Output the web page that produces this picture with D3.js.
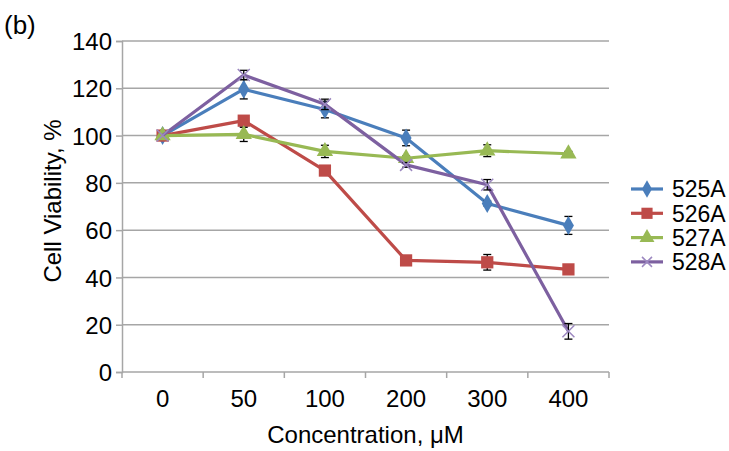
<!DOCTYPE html>
<html>
<head>
<meta charset="utf-8">
<script src="https://cdn.jsdelivr.net/npm/d3@7"></script>
<style>
  body { margin: 0; background: #fff; }
  text { font-family: "Liberation Sans", Arial, sans-serif; fill: #000; }
</style>
</head>
<body>
<div id="chart"></div>
<script>
// concentrations (uM) shown as categories
var concentrations = ["0", "50", "100", "200", "300", "400"];
var seriesNames = ["525A", "526A", "527A", "528A"];

var v525 = [100, 119.6, 111, 99, 71.3, 62];
var v526 = [100, 106.3, 85.2, 47.2, 46.4, 43.4];
var v527 = [100, 100.5, 93.3, 90.4, 93.6, 92.3];
var v528 = [100, 125.6, 113.2, 87.6, 79.2, 17.2];

var e525 = [0, 4.1, 3.5, 3.3, 1, 3.8];
var e526 = [0, 1.5, 1.8, 1, 3.3, 1];
var e527 = [0, 3, 2.6, 1, 2.5, 1];
var e528 = [0, 2, 2.2, 1, 2.2, 3.3];

var yTicks = [0, 20, 40, 60, 80, 100, 120, 140];

var cfg = {
  w: 729,
  h: 451,
  margin: {top: 41, right: 120, bottom: 79, left: 122},
  colors: ["#4a7ebb", "#be4b48", "#98b954", "#7d60a0"],
  symbols: ["diamond", "square", "triangle", "x"]
};

var graphW = cfg.w - cfg.margin.left - cfg.margin.right;
var graphH = cfg.h - cfg.margin.top - cfg.margin.bottom;

var series = [
  {name: seriesNames[0], values: v525, err: e525},
  {name: seriesNames[1], values: v526, err: e526},
  {name: seriesNames[2], values: v527, err: e527},
  {name: seriesNames[3], values: v528, err: e528}
];

var svg = d3.select("#chart")
  .append("svg")
  .attr("width", cfg.w)
  .attr("height", cfg.h);

var g = svg.append("g")
  .attr("transform", "translate(" + cfg.margin.left + "," + cfg.margin.top + ")");

var x = d3.scaleBand()
  .domain(concentrations)
  .range([0, graphW]);

var y = d3.scaleLinear()
  .domain([0, 140])
  .range([graphH, 0]);

// gridlines
g.append("g")
  .selectAll("line")
  .data(yTicks.slice(1))
  .enter()
  .append("line")
  .attr("x1", 0)
  .attr("x2", graphW)
  .attr("y1", function(d) { return y(d); })
  .attr("y2", function(d) { return y(d); })
  .attr("stroke", "#a6a6a6")
  .attr("stroke-width", 1.5);

// Y axis
var yAxis = g.append("g")
  .call(d3.axisLeft(y).tickValues(yTicks).tickSize(6).tickPadding(4));
yAxis.select(".domain").attr("stroke", "#a6a6a6").attr("stroke-width", 1.5);
yAxis.selectAll(".tick line").attr("stroke", "#a6a6a6").attr("stroke-width", 1.5);
yAxis.selectAll(".tick text")
  .style("font-size", "24px")
  .style("font-family", "Liberation Sans, Arial, sans-serif")
  .attr("dy", "0.36em");

// X axis: tick marks at category boundaries
var xAxis = g.append("g")
  .attr("transform", "translate(0," + graphH + ")");
xAxis.append("line")
  .attr("x1", 0).attr("x2", graphW)
  .attr("stroke", "#a6a6a6").attr("stroke-width", 1.5);
xAxis.selectAll(".bound")
  .data(concentrations.concat(["end"]))
  .enter()
  .append("line")
  .attr("class", "bound")
  .attr("x1", function(d, i) { return i * x.step(); })
  .attr("x2", function(d, i) { return i * x.step(); })
  .attr("y1", 0).attr("y2", 6)
  .attr("stroke", "#a6a6a6").attr("stroke-width", 1.5);
xAxis.selectAll(".lbl")
  .data(concentrations)
  .enter()
  .append("text")
  .attr("class", "lbl")
  .attr("x", function(d) { return x(d) + x.bandwidth() / 2; })
  .attr("y", 35)
  .attr("text-anchor", "middle")
  .style("font-size", "24px")
  .text(function(d) { return d; });

// axis titles
svg.append("text")
  .attr("x", cfg.margin.left + graphW / 2)
  .attr("y", 443)
  .attr("text-anchor", "middle")
  .style("font-size", "24px")
  .text("Concentration, \u03bcM");

svg.append("text")
  .attr("transform", "translate(61,201) rotate(-90)")
  .attr("text-anchor", "middle")
  .style("font-size", "24px")
  .text("Cell Viability, %");

svg.append("text")
  .attr("x", 4)
  .attr("y", 34)
  .style("font-size", "26px")
  .text("(b)");

function cx(i) { return x(concentrations[i]) + x.bandwidth() / 2; }

function drawMarker(sel, k, size) {
  var c = cfg.colors[k];
  if (cfg.symbols[k] === "x") {
    sel.append("path")
      .attr("d", "M" + (-size) + "," + (-size) + "L" + size + "," + size +
                 "M" + (-size) + "," + size + "L" + size + "," + (-size))
      .attr("stroke", "#9c88c0")
      .attr("stroke-width", 1.5)
      .attr("fill", "none");
  } else {
    var type = {diamond: d3.symbolDiamond, square: d3.symbolSquare, triangle: d3.symbolTriangle}[cfg.symbols[k]];
    var area = {diamond: 105, square: 150, triangle: 115}[cfg.symbols[k]];
    sel.append("path")
      .attr("d", d3.symbol().type(type).size(area * size / 6)())
      .attr("fill", c);
  }
}

var line = d3.line()
  .x(function(d, i) { return cx(i); })
  .y(function(d) { return y(d); });

series.forEach(function(s, k) {
  var sg = g.append("g");
  sg.append("path")
    .datum(s.values)
    .attr("d", line)
    .attr("fill", "none")
    .attr("stroke", cfg.colors[k])
    .attr("stroke-width", 3.2)
    .attr("stroke-linejoin", "round");

  // error bars
  var eb = sg.selectAll(".err")
    .data(s.values.map(function(v, i) { return {i: i, v: v, e: s.err[i]}; })
      .filter(function(d) { return d.e > 0; }))
    .enter()
    .append("g")
    .attr("class", "err");
  eb.append("line")
    .attr("x1", function(d) { return cx(d.i); })
    .attr("x2", function(d) { return cx(d.i); })
    .attr("y1", function(d) { return y(d.v + d.e); })
    .attr("y2", function(d) { return y(d.v - d.e); })
    .attr("stroke", "#000").attr("stroke-width", 1.3);
  [1, -1].forEach(function(sgn) {
    eb.append("line")
      .attr("x1", function(d) { return cx(d.i) - 4; })
      .attr("x2", function(d) { return cx(d.i) + 4; })
      .attr("y1", function(d) { return y(d.v + sgn * d.e); })
      .attr("y2", function(d) { return y(d.v + sgn * d.e); })
      .attr("stroke", "#000").attr("stroke-width", 1.3);
  });

  sg.selectAll(".mk")
    .data(s.values)
    .enter()
    .append("g")
    .attr("class", "mk")
    .attr("transform", function(d, i) { return "translate(" + cx(i) + "," + y(d) + ")"; })
    .each(function() { drawMarker(d3.select(this), k, 6); });
});

// legend
var legend = svg.append("g")
  .attr("transform", "translate(631,189)");
series.forEach(function(s, k) {
  var lg = legend.append("g").attr("transform", "translate(0," + (k * 24.3) + ")");
  lg.append("line")
    .attr("x1", 0).attr("x2", 32)
    .attr("stroke", cfg.colors[k]).attr("stroke-width", 3.2);
  var m = lg.append("g").attr("transform", "translate(16,0)");
  drawMarker(m, k, 5);
  lg.append("text")
    .attr("x", 41)
    .attr("dy", "0.36em")
    .style("font-size", "23px")
    .text(s.name);
});
</script>
</body>
</html>
